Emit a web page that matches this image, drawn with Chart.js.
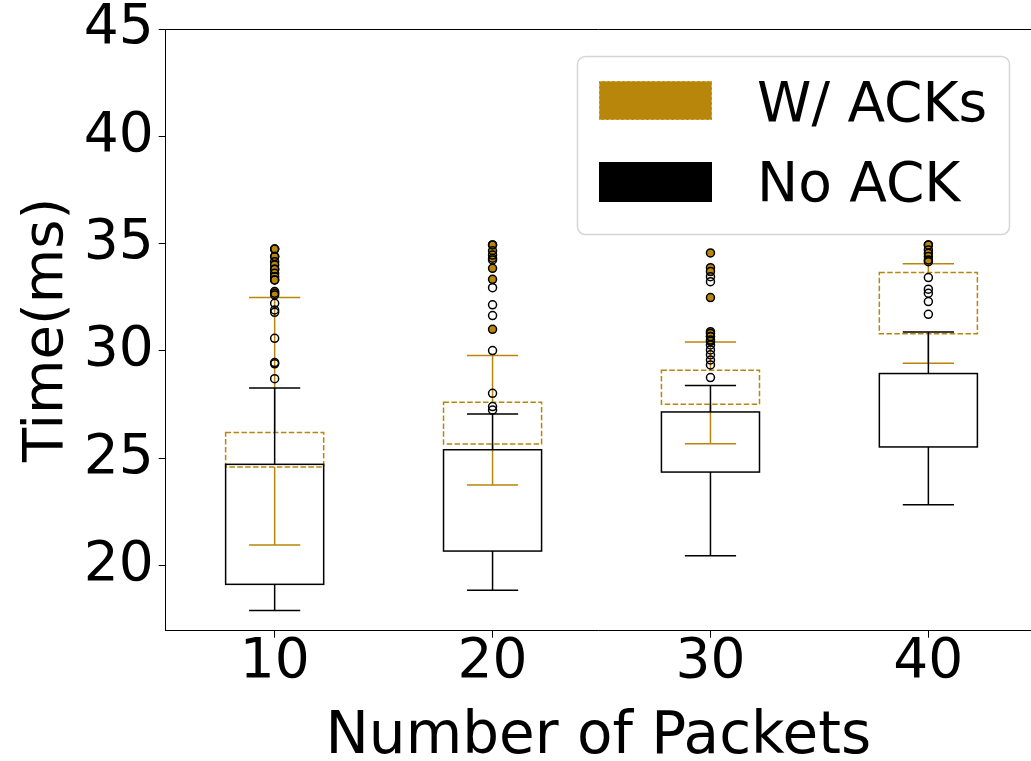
<!DOCTYPE html>
<html>
<head>
<meta charset="utf-8">
<script src="https://cdn.jsdelivr.net/npm/chart.js@4"></script>
<style>
  body { margin: 0; background: #fff; }
  #wrap { width: 1031px; height: 761px; }
</style>
</head>
<body>
<div id="wrap"><canvas id="boxChart" width="1031" height="761"></canvas></div>
<script>
// categories (number of packets)
const cats = ['10', '20', '30', '40'];
const yTicks = [20, 25, 30, 35, 40, 45];

// W/ ACKs
const ackQ1 = [24.60, 25.67, 27.52, 30.80];
const ackQ3 = [26.20, 27.61, 29.10, 33.66];
const ackLo = [20.96, 23.76, 25.68, 29.43];
const ackHi = [32.49, 29.79, 30.42, 34.07];
const ackOut = [
  [34.75, 34.40, 34.16, 34.01, 33.81, 33.62, 33.46, 33.31, 32.77, 32.61],
  [34.94, 34.67, 34.32, 33.85, 33.34, 31.01],
  [34.57, 33.88, 33.70, 32.49, 30.90, 30.67, 30.51],
  [34.94, 34.71, 34.40, 34.16]
];

// No ACK
const noQ1 = [19.13, 20.68, 24.36, 25.53];
const noQ3 = [24.72, 25.40, 27.16, 28.95];
const noLo = [17.91, 18.86, 20.46, 22.84];
const noHi = [28.28, 27.07, 28.39, 30.89];
const noOut = [
  [34.75, 34.40, 33.81, 33.31, 32.69, 32.22, 31.91, 31.80, 30.59, 29.46, 29.40, 28.71],
  [34.94, 34.47, 34.24, 32.95, 32.15, 31.65, 30.02, 28.03, 27.41, 27.25],
  [33.46, 33.23, 30.82, 30.67, 30.45, 30.28, 30.05, 29.82, 29.58, 29.35, 28.76],
  [34.94, 34.55, 34.24, 33.42, 32.88, 32.69, 32.30, 31.71]
];

const gold = '#b8860b';
const font = "'DejaVu Sans', sans-serif";

function toPoints(lists) {
  const pts = [];
  lists.forEach((vals, i) => vals.forEach(v => pts.push({ x: i + 1, y: v })));
  return pts;
}

const ackStats = { q1: ackQ1, q3: ackQ3, lo: ackLo, hi: ackHi, color: gold, dash: [5.5, 2.4] };
const noStats = { q1: noQ1, q3: noQ3, lo: noLo, hi: noHi, color: '#000', dash: [] };

function drawBoxes(chart, s) {
  const ctx = chart.ctx, xs = chart.scales.x, ys = chart.scales.y;
  const half = xs.getPixelForValue(1.225) - xs.getPixelForValue(1);
  const cap = xs.getPixelForValue(1.1175) - xs.getPixelForValue(1);
  ctx.save();
  ctx.strokeStyle = s.color;
  ctx.lineWidth = 1.5;
  for (let i = 0; i < cats.length; i++) {
    const cx = xs.getPixelForValue(i + 1);
    const t = ys.getPixelForValue(s.q3[i]), b = ys.getPixelForValue(s.q1[i]);
    const hi = ys.getPixelForValue(s.hi[i]), lo = ys.getPixelForValue(s.lo[i]);
    ctx.setLineDash(s.dash);
    ctx.strokeRect(cx - half, t, half * 2, b - t);
    ctx.setLineDash([]);
    ctx.beginPath();
    ctx.moveTo(cx, t); ctx.lineTo(cx, hi);
    ctx.moveTo(cx, b); ctx.lineTo(cx, lo);
    ctx.moveTo(cx - cap, hi); ctx.lineTo(cx + cap, hi);
    ctx.moveTo(cx - cap, lo); ctx.lineTo(cx + cap, lo);
    ctx.stroke();
  }
  ctx.restore();
}

const boxPlugin = {
  id: 'boxes',
  beforeDatasetDraw(chart, args) {
    const st = chart.data.datasets[args.index].stats;
    if (st) drawBoxes(chart, st);
  },
  afterDraw(chart) {
    const ctx = chart.ctx, a = chart.chartArea;
    ctx.save();
    // top spine
    ctx.strokeStyle = '#000';
    ctx.lineWidth = 1;
    ctx.beginPath();
    ctx.moveTo(a.left, a.top + 0.5);
    ctx.lineTo(a.right, a.top + 0.5);
    ctx.stroke();

    // legend
    const lx = 577, ly = 56, lw = 432, lh = 178;
    ctx.beginPath();
    ctx.roundRect(lx + 0.5, ly + 0.5, lw, lh, 8);
    ctx.fillStyle = 'rgba(255,255,255,0.8)';
    ctx.fill();
    ctx.strokeStyle = '#d5d5d5';
    ctx.lineWidth = 1.5;
    ctx.stroke();

    ctx.fillStyle = gold;
    ctx.fillRect(599, 81, 113, 39);
    ctx.setLineDash([3, 2]);
    ctx.strokeStyle = '#d9b04a';
    ctx.lineWidth = 1;
    ctx.strokeRect(599.5, 81.5, 112, 38);
    ctx.setLineDash([]);
    ctx.fillStyle = '#000';
    ctx.fillRect(599, 162, 113, 40);

    ctx.font = '55px ' + font;
    ctx.textBaseline = 'alphabetic';
    ctx.textAlign = 'left';
    ctx.fillText('W/ ACKs', 757, 121);
    ctx.fillText('No ACK', 757, 201);
    ctx.restore();
  }
};

const ctx = document.getElementById('boxChart').getContext('2d');
const boxChart = new Chart(ctx, {
  type: 'scatter',
  data: {
    datasets: [
      {
        label: 'No ACK',
        data: toPoints(noOut),
        stats: noStats,
        backgroundColor: 'rgba(0,0,0,0)',
        borderColor: '#000',
        borderWidth: 1.5,
        pointRadius: 4
      },
      {
        label: 'W/ ACKs',
        data: toPoints(ackOut),
        stats: ackStats,
        backgroundColor: gold,
        borderColor: '#000',
        borderWidth: 1.5,
        pointRadius: 4
      }
    ]
  },
  options: {
    responsive: false,
    animation: false,
    layout: { autoPadding: false, padding: { top: 29, left: 0, right: 0, bottom: 0 } },
    plugins: {
      legend: { display: false },
      tooltip: { enabled: false }
    },
    scales: {
      x: {
        type: 'linear',
        min: 0.5,
        max: 4.471,
        afterBuildTicks: (s) => { s.ticks = cats.map((c, i) => ({ value: i + 1 })); },
        afterFit: (s) => { s.height = 130.3; s.paddingLeft = 0; s.paddingRight = 0; },
        ticks: {
          callback: (v) => cats[v - 1],
          font: { family: font, size: 55 },
          color: '#000',
          padding: -8,
          maxRotation: 0
        },
        grid: { drawOnChartArea: false, drawTicks: true, tickLength: 7, color: '#000' },
        border: { display: true, color: '#000', width: 1 },
        title: {
          display: true,
          text: 'Number of Packets',
          font: { family: font, size: 58, lineHeight: 0.8 },
          color: '#000',
          padding: { top: 0, bottom: 0 }
        }
      },
      y: {
        min: 16.97,
        max: 45,
        afterBuildTicks: (s) => { s.ticks = yTicks.map(v => ({ value: v })); },
        afterFit: (s) => { s.width = 165.7; s.paddingTop = 0; s.paddingBottom = 0; },
        ticks: {
          font: { family: font, size: 55 },
          color: '#000',
          padding: 5
        },
        grid: { drawOnChartArea: false, drawTicks: true, tickLength: 7, color: '#000' },
        border: { display: true, color: '#000', width: 1 },
        title: {
          display: true,
          text: 'Time(ms)',
          font: { family: font, size: 56, lineHeight: 1.2 },
          color: '#000',
          padding: { top: 14, bottom: 0 }
        }
      }
    }
  },
  plugins: [boxPlugin]
});
</script>
</body>
</html>
